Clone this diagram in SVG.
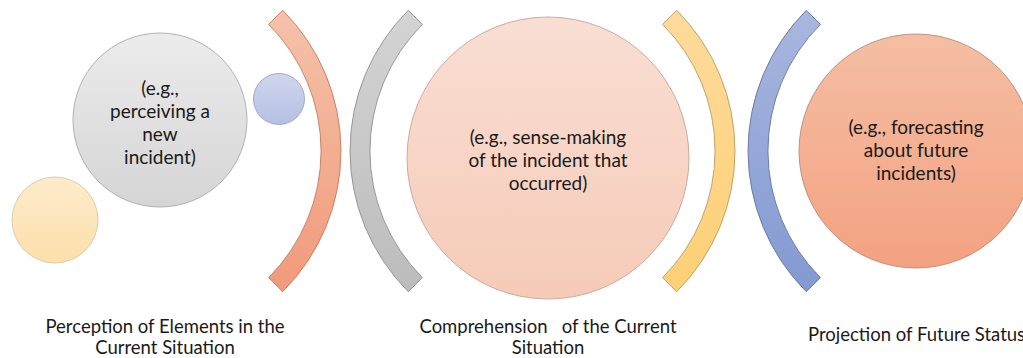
<svg xmlns="http://www.w3.org/2000/svg" width="1023" height="358" viewBox="0 0 1023 358">
  <defs>
    <linearGradient id="gGray" x1="0" y1="0" x2="0" y2="1">
      <stop offset="0" stop-color="#ececec"/><stop offset="1" stop-color="#d5d5d5"/>
    </linearGradient>
    <linearGradient id="gYellowSoft" x1="0" y1="0" x2="0" y2="1">
      <stop offset="0" stop-color="#fdebcb"/><stop offset="1" stop-color="#fce0ac"/>
    </linearGradient>
    <linearGradient id="gBlueSoft" x1="0" y1="0" x2="0" y2="1">
      <stop offset="0" stop-color="#cfd6ee"/><stop offset="1" stop-color="#b5c0e3"/>
    </linearGradient>
    <linearGradient id="gOrangeArc" x1="0" y1="0" x2="0" y2="1">
      <stop offset="0" stop-color="#f5c2aa"/><stop offset="1" stop-color="#f19a7a"/>
    </linearGradient>
    <linearGradient id="gGrayArc" x1="0" y1="0" x2="0" y2="1">
      <stop offset="0" stop-color="#d4d4d4"/><stop offset="1" stop-color="#bcbcbc"/>
    </linearGradient>
    <linearGradient id="gPink" x1="0" y1="0" x2="0" y2="1">
      <stop offset="0" stop-color="#f9ded3"/><stop offset="1" stop-color="#f6cbb8"/>
    </linearGradient>
    <linearGradient id="gYellowArc" x1="0" y1="0" x2="0" y2="1">
      <stop offset="0" stop-color="#fedb9c"/><stop offset="1" stop-color="#fdd074"/>
    </linearGradient>
    <linearGradient id="gBlueArc" x1="0" y1="0" x2="0" y2="1">
      <stop offset="0" stop-color="#a9b7de"/><stop offset="1" stop-color="#8299d2"/>
    </linearGradient>
    <linearGradient id="gOrange" x1="0" y1="0" x2="0" y2="1">
      <stop offset="0" stop-color="#f5bea3"/><stop offset="1" stop-color="#f3a281"/>
    </linearGradient>
  </defs>
  <style>
    .shape { stroke-width: 0.9; }
    .inner { font-family: Lato, "Liberation Sans", sans-serif; font-size: 19px; fill: #1a1a1a; text-anchor: middle; }
    .label { font-family: Lato, "Liberation Sans", sans-serif; font-size: 18.5px; fill: #1a1a1a; white-space: pre; }
    .mid { text-anchor: middle; }
  </style>

  <!-- stage 1: perception -->
  <g id="perception-small-yellow">
    <circle class="shape" cx="55" cy="220" r="43" fill="url(#gYellowSoft)" stroke="#d9c7a6"/>
  </g>
  <g id="perception-small-blue">
    <circle class="shape" cx="279" cy="99" r="25.5" fill="url(#gBlueSoft)" stroke="#9aa4c2"/>
  </g>
  <g id="perception">
    <circle class="shape" cx="160" cy="120" r="87" fill="url(#gGray)" stroke="#a9a9a9"/>
    <text class="inner" x="160" y="95">(e.g.,</text>
    <text class="inner" x="160" y="118">perceiving a</text>
    <text class="inner" x="160" y="141">new</text>
    <text class="inner" x="160" y="164">incident)</text>
  </g>

  <!-- bracket arcs -->
  <g id="arcs">
    <path class="shape" d="M 282.7 10.3 A 199 199 0 0 1 282.7 291.7 L 268.6 277.6 A 179 179 0 0 0 268.6 24.4 Z" fill="url(#gOrangeArc)" stroke="#c07a60"/>
    <path class="shape" d="M 408.3 10.3 A 199 199 0 0 0 408.3 291.7 L 422.4 277.6 A 179 179 0 0 1 422.4 24.4 Z" fill="url(#gGrayArc)" stroke="#8f8f8f"/>
    <path class="shape" d="M 676.7 10.3 A 199 199 0 0 1 676.7 291.7 L 662.6 277.6 A 179 179 0 0 0 662.6 24.4 Z" fill="url(#gYellowArc)" stroke="#b89a5e"/>
    <path class="shape" d="M 806.3 10.3 A 199 199 0 0 0 806.3 291.7 L 820.4 277.6 A 179 179 0 0 1 820.4 24.4 Z" fill="url(#gBlueArc)" stroke="#6474a0"/>
  </g>

  <!-- stage 2: comprehension -->
  <g id="comprehension">
    <circle class="shape" cx="548" cy="158" r="141" fill="url(#gPink)" stroke="#c4a496"/>
    <text class="inner" x="548" y="144">(e.g., sense-making</text>
    <text class="inner" x="548" y="167">of the incident that</text>
    <text class="inner" x="548" y="190">occurred)</text>
  </g>

  <!-- stage 3: projection -->
  <g id="projection">
    <circle class="shape" cx="916" cy="151" r="117" fill="url(#gOrange)" stroke="#b88a74"/>
    <text class="inner" x="916" y="134">(e.g., forecasting</text>
    <text class="inner" x="916" y="157">about future</text>
    <text class="inner" x="916" y="180">incidents)</text>
  </g>

  <!-- stage captions -->
  <g id="captions">
    <text class="label mid" x="165" y="333">Perception of Elements in the</text>
    <text class="label mid" x="165" y="354">Current Situation</text>
    <text class="label mid" x="548" y="333">Comprehension   of the Current</text>
    <text class="label mid" x="548" y="354">Situation</text>
    <text class="label" x="808" y="341">Projection of Future Status</text>
  </g>
</svg>
